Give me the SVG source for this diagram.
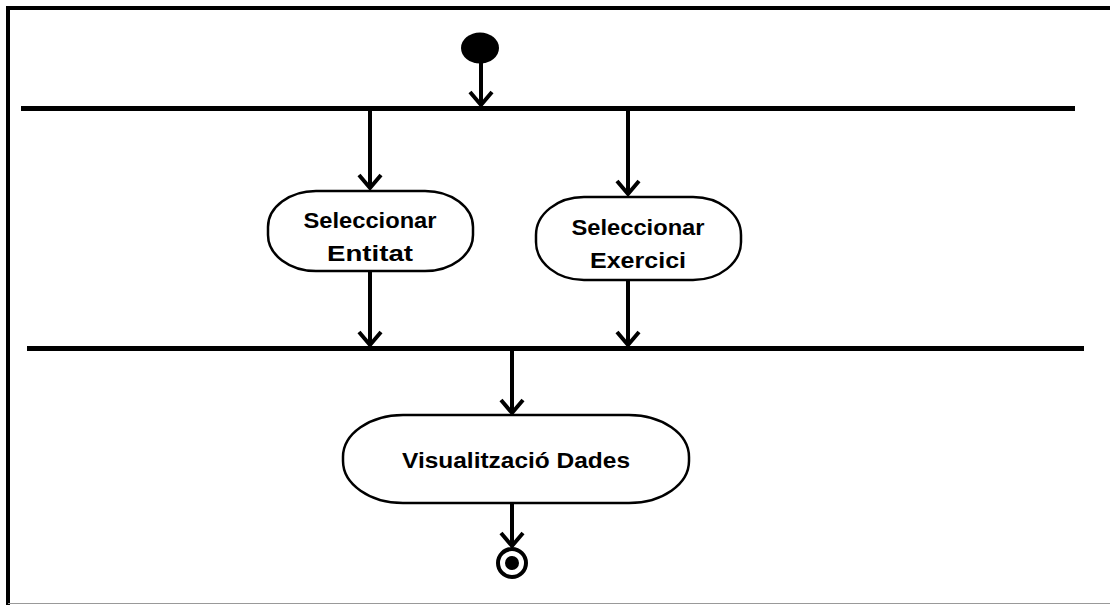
<svg xmlns="http://www.w3.org/2000/svg" width="1110" height="605" viewBox="0 0 1110 605">
<style>
.frame{stroke:#000;stroke-width:4;fill:none}
.bar{stroke:#000;stroke-width:5;fill:none}
.conn{stroke:#000;stroke-width:4;fill:none}
.act{fill:#fff;stroke:#000;stroke-width:2.5}
.lbl{font-family:"Liberation Sans",Arial,sans-serif;font-weight:bold;font-size:22px;fill:#000;text-anchor:middle}
</style>
<rect width="1110" height="605" fill="#fff"/>
<g id="frame">
<path class="frame" d="M8,605 V8 H1110"/>
<line x1="8" y1="603.5" x2="1110" y2="603.5" stroke="#999" stroke-width="1"/>
</g>
<g id="fork">
<line class="bar" x1="21" y1="108.5" x2="1075" y2="108.5"/>
</g>
<g id="join">
<line class="bar" x1="27" y1="348.5" x2="1084" y2="348.5"/>
</g>
<g id="start">
<ellipse cx="480" cy="48" rx="19" ry="15.5" fill="#000"/>
</g>
<g id="entitat">
<rect class="act" x="268" y="191" width="205" height="80" rx="48" ry="36"/>
<text class="lbl" x="370" y="228" textLength="133" lengthAdjust="spacingAndGlyphs">Seleccionar</text>
<text class="lbl" x="370" y="261" textLength="86" lengthAdjust="spacingAndGlyphs">Entitat</text>
</g>
<g id="exercici">
<rect class="act" x="536" y="197" width="205" height="83" rx="48" ry="38"/>
<text class="lbl" x="638" y="235" textLength="133" lengthAdjust="spacingAndGlyphs">Seleccionar</text>
<text class="lbl" x="638" y="268" textLength="96" lengthAdjust="spacingAndGlyphs">Exercici</text>
</g>
<g id="visualitzacio">
<rect class="act" x="343" y="415" width="346" height="88" rx="60" ry="42"/>
<text class="lbl" x="516" y="468" textLength="228" lengthAdjust="spacingAndGlyphs">Visualització Dades</text>
</g>
<g id="end">
<circle cx="512" cy="563" r="14" fill="#fff" stroke="#000" stroke-width="4"/>
<circle cx="512" cy="563" r="7" fill="#000"/>
</g>
<g id="connectors" class="conn">
<path d="M481,62 V105 M470,92 L481,105 L492,92"/>
<path d="M370,111 V188 M359,175 L370,188 L381,175"/>
<path d="M628,111 V194 M617,181 L628,194 L639,181"/>
<path d="M370,272 V345 M359,332 L370,345 L381,332"/>
<path d="M628,281 V345 M617,332 L628,345 L639,332"/>
<path d="M512,351 V413 M501,400 L512,413 L523,400"/>
<path d="M512,504 V546 M501,533 L512,546 L523,533"/>
</g>
</svg>
